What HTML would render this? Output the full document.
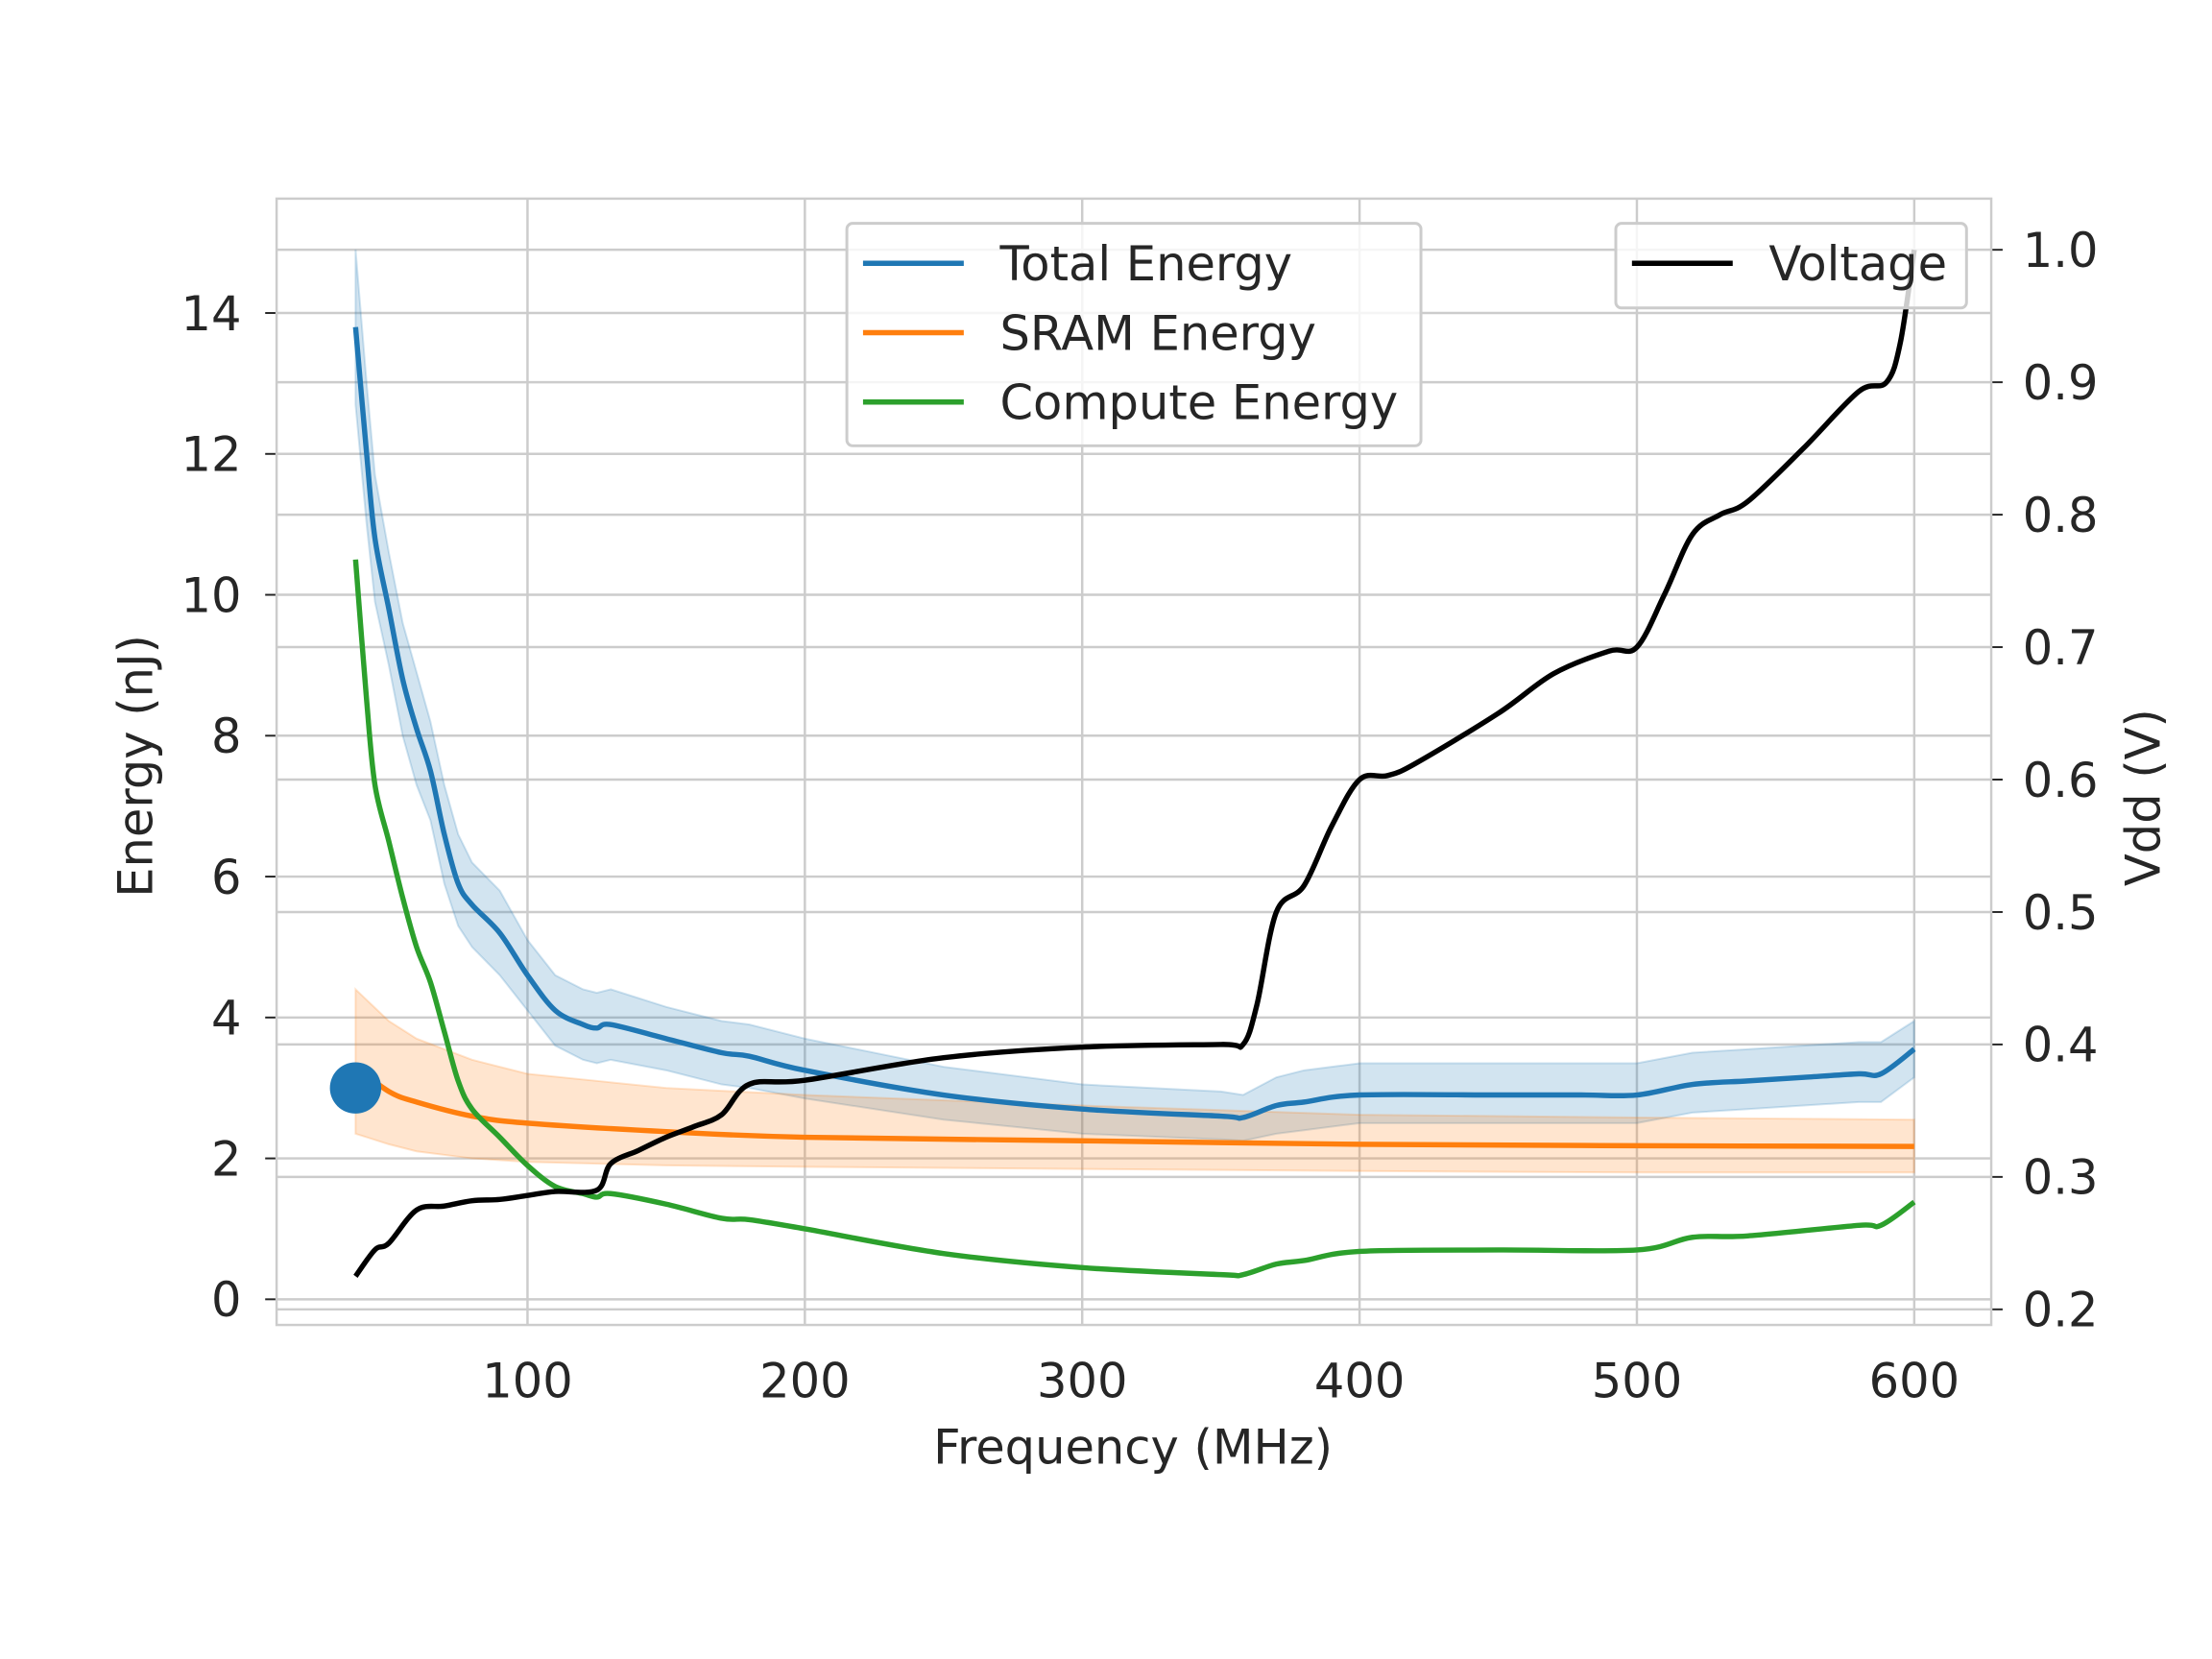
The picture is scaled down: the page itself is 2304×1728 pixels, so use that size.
<!DOCTYPE html>
<html><head><meta charset="utf-8"><style>
html,body{margin:0;padding:0;background:#fff}
svg{display:block}
text{font-family:"DejaVu Sans","Liberation Sans",sans-serif;fill:#262626}
</style></head><body>
<svg id="chart" width="2304" height="1728" viewBox="0 0 2304 1728" xmlns="http://www.w3.org/2000/svg">
<rect width="2304" height="1728" fill="#fff"/>
<g transform="scale(0.99)">
<g id="grid"></g>
<g id="bands"></g>
<g id="lines"></g>
<g id="axes"></g>
<g id="legend"></g>
</g>
</svg>
<script>
const freqTotal=[38,42,45,50,55,60,65,70,75,80,90,100,110,120,125,130,150,170,180,200,250,300,350,358,370,380,400,450,480,500,520,540,560,580,588,600];
const totalEnergy=[13.8,12,10.8,9.8,8.8,8.1,7.5,6.6,5.9,5.6,5.2,4.6,4.1,3.9,3.85,3.9,3.7,3.5,3.45,3.25,2.9,2.7,2.6,2.58,2.75,2.8,2.9,2.9,2.9,2.9,3.05,3.1,3.15,3.2,3.2,3.55];
const totalUpper=[14.9,13,11.7,10.6,9.6,8.9,8.2,7.3,6.6,6.2,5.8,5.1,4.6,4.4,4.35,4.4,4.15,3.95,3.9,3.7,3.3,3.05,2.95,2.9,3.15,3.25,3.35,3.35,3.35,3.35,3.5,3.55,3.6,3.65,3.65,3.95];
const totalLower=[12.7,11,9.9,9,8,7.3,6.8,5.9,5.3,5,4.6,4.1,3.6,3.4,3.35,3.4,3.25,3.05,3.0,2.85,2.55,2.35,2.27,2.25,2.35,2.4,2.5,2.5,2.5,2.5,2.65,2.7,2.75,2.8,2.8,3.15];
const freqSram=[38,50,60,80,100,150,200,300,400,500,600];
const sramEnergy=[3.3,2.95,2.8,2.6,2.5,2.38,2.3,2.25,2.2,2.18,2.17];
const sramUpper=[4.4,3.95,3.7,3.4,3.2,3.0,2.9,2.75,2.62,2.58,2.55];
const sramLower=[2.35,2.2,2.1,2.0,1.95,1.9,1.88,1.85,1.82,1.8,1.8];
const freqCompute=[38,42,45,50,55,60,65,70,75,80,90,100,110,120,125,130,150,170,180,200,250,300,350,358,370,380,400,450,500,520,540,580,588,600];
const computeEnergy=[10.5,8.5,7.3,6.5,5.7,5.0,4.5,3.8,3.1,2.7,2.3,1.9,1.6,1.5,1.45,1.5,1.35,1.15,1.13,1.0,0.65,0.45,0.35,0.35,0.5,0.55,0.68,0.7,0.7,0.88,0.9,1.05,1.05,1.38];
const freqVolt=[38,45,50,60,70,80,90,100,110,125,130,140,150,160,170,180,200,250,300,350,358,363,370,380,390,400,410,420,450,470,490,500,510,520,530,540,560,580,590,595,600];
const voltage=[0.225,0.245,0.25,0.275,0.278,0.282,0.283,0.286,0.289,0.29,0.31,0.32,0.33,0.338,0.347,0.37,0.373,0.39,0.398,0.4,0.4,0.43,0.5,0.52,0.565,0.6,0.603,0.612,0.65,0.68,0.697,0.7,0.74,0.785,0.8,0.81,0.85,0.893,0.9,0.93,1.0];
const xTicks=[100,200,300,400,500,600];
const yTicks=[0,2,4,6,8,10,12,14];
const vTicks=[0.2,0.3,0.4,0.5,0.6,0.7,0.8,0.9,1.0];
const markerPoint=[38,3.0];

const L=291,R=2095,T=209,B=1394;
const FS=50;
const X=f=>555+(f-100)*2.918;
const Y=e=>1367-e*74.12;
const V=v=>1377.6-(v-0.2)*1393.5;
const NS='http://www.w3.org/2000/svg';
function mk(tag,attrs,parent){const el=document.createElementNS(NS,tag);for(const k in attrs)el.setAttribute(k,attrs[k]);parent.appendChild(el);return el;}
function smooth(pts){let d='M'+pts[0][0]+','+pts[0][1];for(let i=0;i<pts.length-1;i++){const p0=pts[i-1]||pts[i],p1=pts[i],p2=pts[i+1],p3=pts[i+2]||p2;const c1x=p1[0]+(p2[0]-p0[0])/6,c1y=p1[1]+(p2[1]-p0[1])/6,c2x=p2[0]-(p3[0]-p1[0])/6,c2y=p2[1]-(p3[1]-p1[1])/6;d+=' C'+c1x+','+c1y+' '+c2x+','+c2y+' '+p2[0]+','+p2[1];}return d;}
const grid=document.getElementById('grid'),bands=document.getElementById('bands'),lines=document.getElementById('lines'),axes=document.getElementById('axes'),legend=document.getElementById('legend');
const GC='#cccccc';
xTicks.forEach(t=>{const g=mk('line',{x1:X(t),x2:X(t),y1:T,y2:B,stroke:GC,'stroke-width':2.5},grid);


const tx=mk('text',{x:X(t),y:1470,'font-size':FS,'text-anchor':'middle'},axes);tx.textContent=t;

});
yTicks.forEach(t=>{const g=mk('line',{x1:L,x2:R,y1:Y(t),y2:Y(t),stroke:GC,'stroke-width':2.5},grid);


mk('line',{x1:L-12,x2:L,y1:Y(t),y2:Y(t),stroke:'#262626','stroke-width':2},axes);
const tx=mk('text',{x:254,y:Y(t)+18,'font-size':FS,'text-anchor':'end'},axes);tx.textContent=t;

});
vTicks.forEach(t=>{const g=mk('line',{x1:L,x2:R,y1:V(t),y2:V(t),stroke:GC,'stroke-width':2.5},grid);


mk('line',{x1:R,x2:R+12,y1:V(t),y2:V(t),stroke:'#262626','stroke-width':2},axes);
const tx=mk('text',{x:2128,y:V(t)+18,'font-size':FS},axes);tx.textContent=t.toFixed(1);

});
const frame=mk('rect',{x:L,y:T,width:R-L,height:B-T,fill:'none',stroke:GC,'stroke-width':2.5},axes);


function band(fs,up,lo,color,name){const top=fs.map((f,i)=>[X(f),Y(up[i])]);const bot=fs.map((f,i)=>[X(f),Y(lo[i])]).reverse();
const p=mk('path',{d:'M'+top.map(p=>p.join(',')).join(' L')+' L'+bot.map(p=>p.join(',')).join(' L')+'Z',fill:color,'fill-opacity':0.2,stroke:color,'stroke-opacity':0.2,'stroke-width':2},bands);

}
band(freqTotal,totalUpper,totalLower,'#1f77b4','total-energy-band');
band(freqSram,sramUpper,sramLower,'#ff7f0e','sram-energy-band');
function line(fs,vals,fy,color,name){const p=mk('path',{d:smooth(fs.map((f,i)=>[X(f),fy(vals[i])])),fill:'none',stroke:color,'stroke-width':5.5,'stroke-linejoin':'round'},lines);

}
line(freqTotal,totalEnergy,Y,'#1f77b4','total-energy-line');
line(freqSram,sramEnergy,Y,'#ff7f0e','sram-energy-line');
line(freqCompute,computeEnergy,Y,'#2ca02c','compute-energy-line');
line(freqVolt,voltage,V,'#000000','voltage-line');
const dot=mk('circle',{cx:X(markerPoint[0]),cy:Y(markerPoint[1]),r:27,fill:'#1f77b4'},lines);


const xl=mk('text',{x:1192,y:1540,'font-size':FS,'text-anchor':'middle'},axes);xl.textContent='Frequency (MHz)';


const yl=mk('text',{x:0,y:0,'font-size':FS,'text-anchor':'middle',transform:'translate(160,806) rotate(-90)'},axes);yl.textContent='Energy (nJ)';


const vl=mk('text',{x:0,y:0,'font-size':FS,'text-anchor':'middle',transform:'translate(2272,839) rotate(-90)'},axes);vl.textContent='Vdd (V)';


const lb=mk('rect',{x:891,y:235,width:604,height:234,rx:6,fill:'#fff','fill-opacity':0.8,stroke:'#cccccc','stroke-width':3},legend);


[['Total Energy','#1f77b4'],['SRAM Energy','#ff7f0e'],['Compute Energy','#2ca02c']].forEach((e,i)=>{const y=277+i*73;
mk('line',{x1:908,x2:1014,y1:y,y2:y,stroke:e[1],'stroke-width':5.5},legend);
const t=mk('text',{x:1052,y:y+18,'font-size':FS},legend);t.textContent=e[0];

});
const vb=mk('rect',{x:1700,y:235,width:369,height:89,rx:6,fill:'#fff','fill-opacity':0.8,stroke:'#cccccc','stroke-width':3},legend);


mk('line',{x1:1717,x2:1823,y1:277,y2:277,stroke:'#000','stroke-width':5.5},legend);
const vt=mk('text',{x:1861,y:295,'font-size':FS},legend);vt.textContent='Voltage';


</script>
</body></html>
